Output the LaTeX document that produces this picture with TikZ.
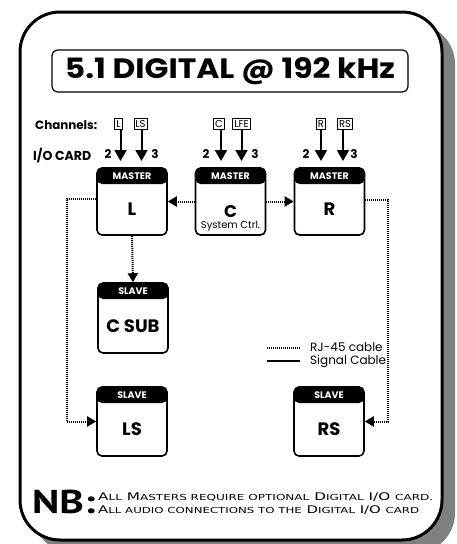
\documentclass[tikz,border=0pt]{standalone}
\usepackage{fontspec}
\setmainfont{Poppins}
\newfontfamily\nbfont{PT Sans}
\newfontfamily\scfont{DejaVu Sans}
\usetikzlibrary{arrows.meta,calc}
\newcommand{\smc}[1]{{\fontsize{8.3}{9}\selectfont #1}}
\begin{document}
\begin{tikzpicture}[x=1pt,y=-1pt,
  unit/.style={draw,line width=1.6pt,rounded corners=5pt,minimum width=70pt,inner sep=0pt,
    path picture={\fill (path picture bounding box.north west) rectangle ([yshift=-16pt]path picture bounding box.north east);}},
  hdr/.style={anchor=center,yshift=-8.5pt,text=white,inner sep=0pt,font=\bfseries\fontsize{9.5}{10}\selectfont},
  body/.style={anchor=center,yshift=-8pt,inner sep=0pt,font=\fontsize{18}{19}\selectfont\bfseries},
  chan/.style={draw,line width=0.8pt,inner xsep=1.5pt,inner ysep=0pt,minimum height=11pt,font=\fontsize{10}{10}\selectfont},
  sig/.style={line width=2pt,-{Triangle[width=12pt,length=11pt]}},
  rj/.style={line width=2pt,dash pattern=on 1pt off 1pt,-{Triangle[width=10pt,length=9pt]}},
  num/.style={font=\bfseries\fontsize{12}{13}\selectfont,inner sep=0pt},
  leg/.style={font=\fontsize{12}{13}\selectfont,anchor=west,inner sep=0pt}
]
\clip (0,0) rectangle (456,544);
% frame
\fill[black!50,rounded corners=40pt] (33,24) rectangle (455,553);
\draw[line width=3pt,rounded corners=40pt,fill=white] (20,12) rectangle (442,540);
% title
\node[draw,line width=1.2pt,rounded corners=6pt,minimum width=356pt,minimum height=42pt,inner sep=0pt] (title) at (230,71)
  {\resizebox{330pt}{\height}{\fontsize{28}{30}\selectfont\bfseries 5.1 DIGITAL @ 192 kHz}};
% left labels
\node[anchor=west,inner sep=0pt] (chlab) at (35,125.5)
  {\resizebox{62pt}{\height}{\bfseries\fontsize{12}{13}\selectfont Channels:}};
\node[anchor=west,inner sep=0pt] (iolab) at (33,155.5)
  {\resizebox{58pt}{\height}{\bfseries\fontsize{13}{14}\selectfont I/O CARD}};
% masters
\node[unit,minimum height=67pt,label={[hdr]north:MASTER},label={[body]center:L}] (L) at (132,201.5) {};
\node[unit,minimum height=67pt,label={[hdr]north:MASTER},label={[body,yshift=-2pt,font=\fontsize{17}{18}\selectfont\bfseries]center:C},
  label={[anchor=center,inner sep=0pt,yshift=-25pt,font=\fontsize{10}{10}\selectfont]center:System Ctrl.}] (C) at (230.5,201.5) {};
\node[unit,minimum height=67pt,label={[hdr]north:MASTER},label={[body]center:R}] (R) at (329.5,201.5) {};
% slaves
\node[unit,minimum height=70pt,label={[hdr]north:SLAVE},label={[body]center:C SUB}] (CSUB) at (133,318) {};
\node[unit,minimum height=69pt,label={[hdr]north:SLAVE},label={[body]center:LS}] (LS) at (132,421.5) {};
\node[unit,minimum height=69pt,label={[hdr]north:SLAVE},label={[body]center:RS}] (RS) at (329,421.5) {};
% channel boxes
\node[chan] (cL) at (118.5,124) {L};
\node[chan] (cLS) at (140.5,124) {LS};
\node[chan] (cC) at (219,124) {C};
\node[chan] (cLFE) at (241.5,124) {LFE};
\node[chan] (cR) at (321,124) {R};
\node[chan] (cRS) at (345,124) {RS};
% signal arrows
\coordinate (tipy) at (0,161);
\draw[sig] ([xshift=2pt]cL.south) -- ([xshift=2pt]cL.south |- tipy);
\draw[sig] ([xshift=1pt]cLS.south) -- ([xshift=1pt]cLS.south |- tipy);
\draw[sig] ([xshift=2pt]cC.south) -- ([xshift=2pt]cC.south |- tipy);
\draw[sig] (cLFE.south) -- (cLFE.south |- tipy);
\draw[sig] (cR.south) -- (cR.south |- tipy);
\draw[sig] ([xshift=-2pt]cRS.south) -- ([xshift=-2pt]cRS.south |- tipy);
% numbers
\node[num] (n2L) at (108,154) {2};
\node[num] (n3L) at (155,154) {3};
\node[num] (n2C) at (206,154) {2};
\node[num] (n3C) at (255,154) {3};
\node[num] (n2R) at (306,154) {2};
\node[num] (n3R) at (354,154) {3};
% RJ-45 connections
\draw[rj] (C.west) -- (L.east);
\draw[rj] (C.east) -- (R.west);
\draw[rj] (L.south) -- (CSUB.north);
\draw[rj] ([yshift=3pt]L.west) -- ++(-29,0) |- (LS.west);
\draw[rj] ([yshift=2pt]R.east) -- ++(23,0) |- (RS.east);
% legend
\coordinate (d1) at (267,348);
\coordinate (d2) at (300,348);
\coordinate (s1) at (267,361);
\coordinate (s2) at (300,361);
\draw[line width=2pt,dash pattern=on 1pt off 1pt] (d1) -- (d2);
\draw[line width=2pt] (s1) -- (s2);
\node[leg] (legrj) at (310,347.5) {RJ-45 cable};
\node[leg] (legsig) at (310,361.5) {Signal Cable};
% NB
\node[anchor=west,inner sep=0pt] (nb) at (32,502)
  {\resizebox{63pt}{\height}{\nbfont\bfseries\fontsize{33}{34}\selectfont NB:}};
\node[anchor=west,inner sep=0pt] (nb1) at (98,497)
  {\resizebox{335pt}{\height}{\scfont\fontsize{10.5}{11}\selectfont A\smc{LL} M\smc{ASTERS REQUIRE OPTIONAL} D\smc{IGITAL} I/O \smc{CARD.}}};
\node[anchor=west,inner sep=0pt] (nb2) at (98,510.5)
  {\resizebox{321pt}{\height}{\scfont\fontsize{10.5}{11}\selectfont A\smc{LL AUDIO CONNECTIONS TO THE} D\smc{IGITAL} I/O \smc{CARD}}};
\end{tikzpicture}
\end{document}
